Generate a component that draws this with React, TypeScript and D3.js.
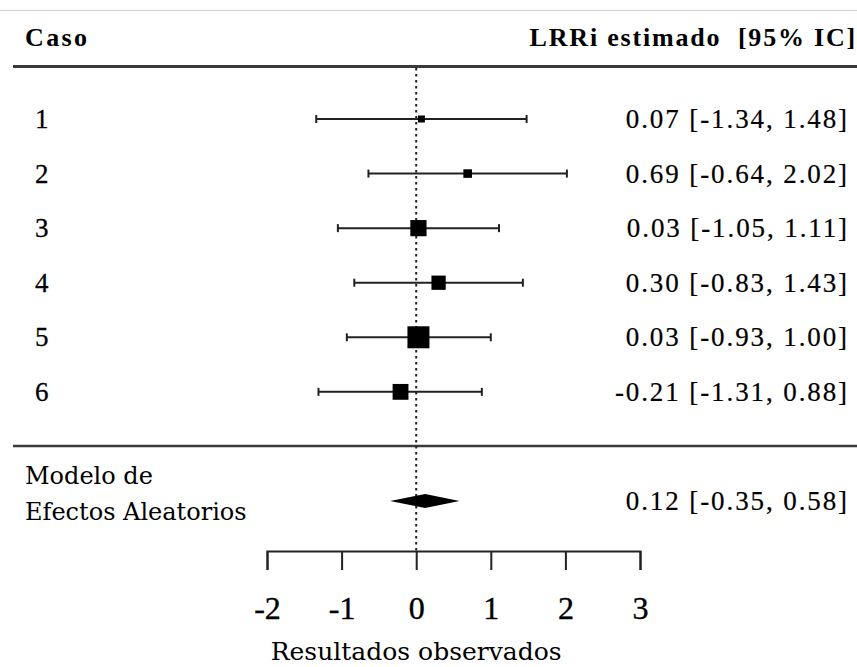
import React, { useEffect, useRef } from "react";
import * as d3 from "d3";

const cases = ["1", "2", "3", "4", "5", "6"];
const estimates = [0.07, 0.69, 0.03, 0.30, 0.03, -0.21];
const lower = [-1.34, -0.64, -1.05, -0.83, -0.93, -1.31];
const upper = [1.48, 2.02, 1.11, 1.43, 1.00, 0.88];
const weights = [10.9, 12.2, 18.5, 16.9, 23.3, 18.2];
const summaryLabel = ["Modelo de", "Efectos Aleatorios"];
const summaryEst = 0.12;
const summaryLo = -0.35;
const summaryHi = 0.58;
const xTicks = [-2, -1, 0, 1, 2, 3];
const headerLeft = "Caso";
const headerRight = "LRRi estimado  [95% IC]";
const xTitle = "Resultados observados";

const W = 857;
const H = 667;

export default function App() {
  const ref = useRef<SVGSVGElement | null>(null);

  useEffect(() => {
    const svg = d3.select(ref.current);
    svg.selectAll("*").remove();

    const x = d3.scaleLinear().domain([-2, 3]).range([267, 640]);
    const y = d3.scaleLinear().domain([1, 8]).range([119, 501]);
    const size = d3
      .scaleLinear()
      .domain([d3.min(weights) as number, d3.max(weights) as number])
      .range([7, 22]);

    const serif = '"Liberation Serif", "Times New Roman", Times, serif';
    const book = '"DejaVu Serif", serif';
    const fmt = (v: number) => v.toFixed(2);

    // top faint line
    svg.append("line").attr("x1", 0).attr("x2", W).attr("y1", 10.5).attr("y2", 10.5)
      .attr("stroke", "#cfcfcf").attr("stroke-width", 1);

    // headers
    svg.append("text").attr("x", 25).attr("y", 46).text(headerLeft)
      .style("font-family", serif).style("font-weight", "bold").style("font-size", "26px")
      .style("letter-spacing", "2.4px").attr("fill", "#000");
    svg.append("text").attr("x", 857).attr("y", 46).attr("text-anchor", "end").text(headerRight)
      .style("font-family", serif).style("font-weight", "bold").style("font-size", "26px")
      .style("letter-spacing", "1.8px").attr("fill", "#000").style("white-space", "pre");

    // header rule
    svg.append("line").attr("x1", 13).attr("x2", W).attr("y1", 66.5).attr("y2", 66.5)
      .attr("stroke", "#3a3a3a").attr("stroke-width", 3);
    // separator
    svg.append("line").attr("x1", 13).attr("x2", W).attr("y1", 446).attr("y2", 446)
      .attr("stroke", "#3a3a3a").attr("stroke-width", 2.5);

    // reference line
    svg.append("line").attr("x1", x(0)).attr("x2", x(0)).attr("y1", 68).attr("y2", 551)
      .attr("stroke", "#222").attr("stroke-width", 2).attr("stroke-dasharray", "2.5,3.5");

    const rows = svg.append("g");
    cases.forEach((c, i) => {
      const yy = y(i + 1);
      const g = rows.append("g");
      g.append("line").attr("x1", x(lower[i])).attr("x2", x(upper[i])).attr("y1", yy).attr("y2", yy)
        .attr("stroke", "#222").attr("stroke-width", 2);
      [lower[i], upper[i]].forEach((v) => {
        g.append("line").attr("x1", x(v)).attr("x2", x(v)).attr("y1", yy - 4).attr("y2", yy + 4)
          .attr("stroke", "#222").attr("stroke-width", 2);
      });
      const s = size(weights[i]);
      g.append("rect").attr("x", x(estimates[i]) - s / 2).attr("y", yy - s / 2)
        .attr("width", s).attr("height", s).attr("fill", "#000");
      g.append("text").attr("x", 35).attr("y", yy + 9).text(c)
        .style("font-family", serif).style("font-size", "27px").attr("fill", "#000")
        .attr("stroke", "#000").attr("stroke-width", 0.3);
      g.append("text").attr("x", 849).attr("y", yy + 9).attr("text-anchor", "end")
        .text(`${fmt(estimates[i])} [${fmt(lower[i])}, ${fmt(upper[i])}]`)
        .style("font-family", serif).style("font-size", "27px").style("letter-spacing", "1.9px")
        .attr("fill", "#000").attr("stroke", "#000").attr("stroke-width", 0.2);
    });

    // summary
    const ys = y(8);
    svg.append("polygon")
      .attr("points", [
        [x(summaryLo), ys],
        [x(summaryEst), ys - 7],
        [x(summaryHi), ys],
        [x(summaryEst), ys + 7],
      ].map((p) => p.join(",")).join(" "))
      .attr("fill", "#000");
    summaryLabel.forEach((t, k) => {
      svg.append("text").attr("x", 25).attr("y", 484 + k * 36).text(t)
        .style("font-family", book).style("font-size", "24px").attr("fill", "#000");
    });
    svg.append("text").attr("x", 849).attr("y", ys + 9).attr("text-anchor", "end")
      .text(`${fmt(summaryEst)} [${fmt(summaryLo)}, ${fmt(summaryHi)}]`)
      .style("font-family", serif).style("font-size", "27px").style("letter-spacing", "1.9px")
      .attr("fill", "#000").attr("stroke", "#000").attr("stroke-width", 0.2);

    // axis
    const axis = d3.axisBottom(x).tickValues(xTicks).tickFormat((d) => String(d))
      .tickSizeInner(19).tickSizeOuter(19).tickPadding(26);
    const ag = svg.append("g").attr("transform", "translate(0,551)").call(axis);
    ag.attr("font-family", null).attr("font-size", null);
    ag.select(".domain").attr("stroke", "#222").attr("stroke-width", 2);
    ag.selectAll(".tick line").attr("stroke", "#222").attr("stroke-width", 2);
    ag.selectAll(".tick text").style("font-family", serif).style("font-size", "32px")
      .attr("fill", "#000").attr("stroke", "#000").attr("stroke-width", 0.4);

    svg.append("text").attr("x", x(0)).attr("y", 660).attr("text-anchor", "middle").text(xTitle)
      .style("font-family", book).style("font-size", "25px").attr("fill", "#000");
  }, []);

  return (
    <svg
      ref={ref}
      width={W}
      height={H}
      style={{ position: "absolute", left: 0, top: 0, background: "#fff" }}
    />
  );
}
